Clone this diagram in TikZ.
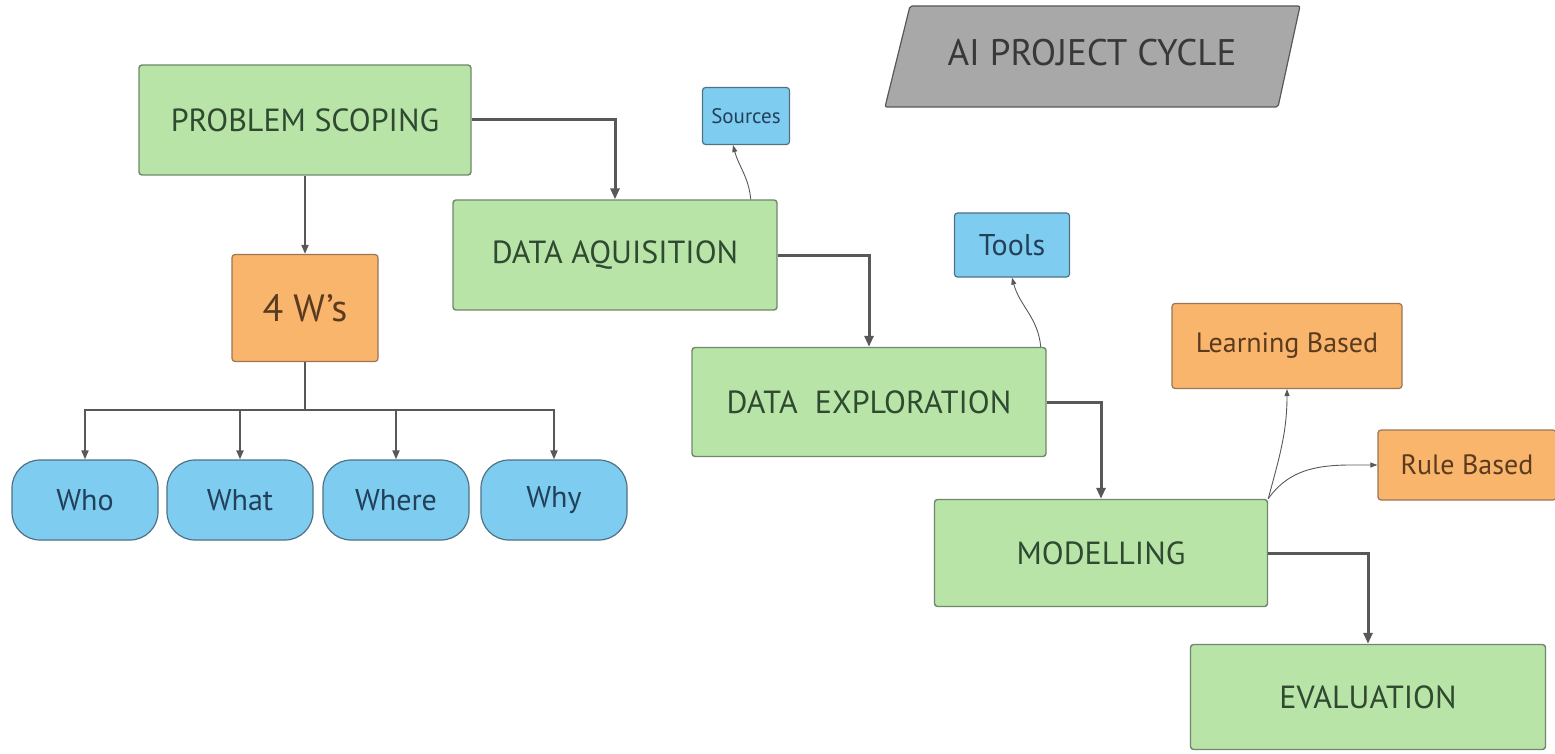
\documentclass[tikz,border=0pt]{standalone}
\usepackage{fontspec}
\setmainfont{PT Sans}
\usetikzlibrary{arrows.meta}
\definecolor{stagegreen}{HTML}{B8E4A8}
\definecolor{stageline}{HTML}{71876B}
\definecolor{stagetext}{HTML}{2F4A30}
\definecolor{toolblue}{HTML}{7ECDF0}
\definecolor{blueline}{HTML}{4F7184}
\definecolor{bluetext}{HTML}{22405A}
\definecolor{wsorange}{HTML}{F9B56C}
\definecolor{orangeline}{HTML}{9A7656}
\definecolor{orangetext}{HTML}{5B3B20}
\definecolor{titlegray}{HTML}{A8A8A8}
\definecolor{arrowgray}{HTML}{585858}
\tikzset{
    stage/.style={draw=stageline, fill=stagegreen, text=stagetext, line width=1.4pt,
        rounded corners=3pt, inner sep=0pt, font=\fontsize{32}{36}\selectfont},
    wbox/.style={draw=orangeline, fill=wsorange, text=orangetext, line width=1.2pt,
        rounded corners=3pt, inner sep=0pt, font=\fontsize{28}{32}\selectfont},
    wpill/.style={draw=blueline, fill=toolblue, text=bluetext, line width=1.2pt,
        rounded corners=28pt, minimum width=146pt, minimum height=80pt, inner sep=0pt,
        font=\fontsize{30}{34}\selectfont},
    tagbox/.style={draw=blueline, fill=toolblue, text=bluetext, line width=1.2pt,
        rounded corners=3pt, inner sep=0pt, font=\fontsize{30}{34}\selectfont},
    flow/.style={draw=arrowgray, line width=3pt, -{Triangle[length=11pt,width=9pt]}},
    branch/.style={draw=arrowgray, line width=1.8pt, -{Triangle[length=9pt,width=7pt]}},
    hint/.style={draw=arrowgray, line width=0.9pt, -{Triangle[length=7pt,width=5pt]}},
}
\begin{document}
\begin{tikzpicture}[x=1pt, y=-1pt]
            \useasboundingbox (0,0) rectangle (1555,754);
            \filldraw[fill=titlegray, draw=arrowgray, line width=1.2pt, rounded corners=2pt]
                (910,6) -- (1300,6) -- (1278,107) -- (885,107) -- cycle;
            \node[text=black!78, font=\fontsize{37}{41}\selectfont] (title) at (1092,53) {AI PROJECT CYCLE};
            \node[stage, minimum width=332pt, minimum height=110pt] (ps) at (305,120) {PROBLEM SCOPING};
            \node[stage, minimum width=324pt, minimum height=110pt] (da) at (615,255) {DATA AQUISITION};
            \node[stage, minimum width=354pt, minimum height=109pt] (de) at (869,402) {DATA~~EXPLORATION};
            \node[stage, minimum width=333pt, minimum height=107pt] (mo) at (1101,553) {MODELLING};
            \node[stage, minimum width=355pt, minimum height=105pt] (ev) at (1368,697) {EVALUATION};
            \node[wbox, minimum width=146pt, minimum height=107pt, font=\fontsize{38}{42}\selectfont] (w4) at (305,308) {4 W’s};
            \node[wpill] (who) at (85,500) {Who};
            \node[wpill] (what) at (240,500) {What};
            \node[wpill] (where) at (396,500) {Where};
            \node[wpill] (why) at (554,500) {Why};
            \node[tagbox, minimum width=87pt, minimum height=57pt, font=\fontsize{21}{24}\selectfont] (src) at (746,116) {Sources};
            \node[tagbox, minimum width=115pt, minimum height=64pt] (tl) at (1012,245) {Tools};
            \node[wbox, minimum width=230pt, minimum height=85pt] (lb) at (1287,346) {Learning Based};
            \node[wbox, minimum width=178pt, minimum height=70pt] (rb) at (1467,465) {Rule Based};
            \draw[flow] (ps.east) -| (da.north);
            \draw[flow] (da.east) -| (de.north);
            \draw[flow] (de.east) -| (mo.north);
            \draw[flow] (mo.east) -| (ev.north);
            \draw[branch] (ps.south) -- (w4.north);
            \draw[draw=arrowgray, line width=1.8pt] (w4.south) -- ++(0,48) coordinate (split);
            \draw[branch] (split) -| (who.north);
            \draw[branch] (split) -| (what.north);
            \draw[branch] (split) -| (where.north);
            \draw[branch] (split) -| (why.north);
            \draw[hint] ([xshift=-27pt]da.north east) to[out=95, in=-75] ([xshift=-13pt]src.south);
            \draw[hint] ([xshift=-6pt]de.north east) to[out=95, in=-75] (tl.south);
            \draw[hint] (mo.north east) to[out=75, in=-90] (lb.south);
            \draw[hint] (mo.north east) to[out=55, in=180] (rb.west);
        \end{tikzpicture}
\end{document}
